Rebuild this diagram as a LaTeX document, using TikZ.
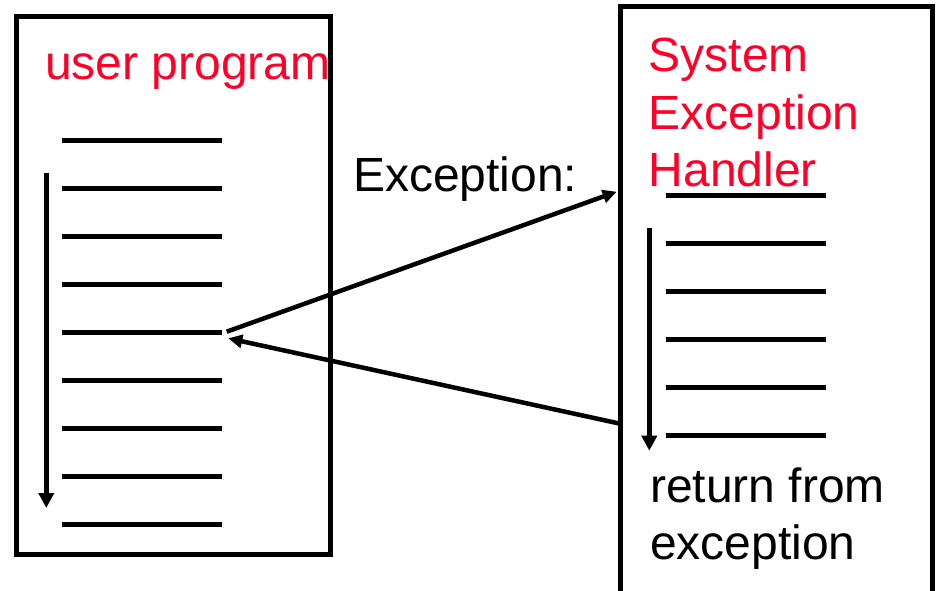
\documentclass[tikz,border=0pt]{standalone}
\usepackage{fontspec}
\setmainfont{Liberation Sans}
\usetikzlibrary{arrows.meta}
\definecolor{titlered}{RGB}{255,0,40}
\begin{document}
\begin{tikzpicture}[x=1pt,y=-1pt,
  frame/.style={draw, line width=5pt, rectangle, inner sep=0pt, outer sep=0pt},
  codeline/.style={line width=5pt},
  flow/.style={line width=5pt, -{Triangle[length=15pt,width=15pt]}},
  jump/.style={line width=4.5pt, -{Triangle[length=14pt,width=13pt]}},
  lbl/.style={anchor=base west, inner sep=0pt, font=\fontsize{48}{57}\selectfont},
]
% canvas
\clip (0,0) rectangle (936,590);
\fill[white] (0,0) rectangle (936,590);

% the two program boxes
\node[frame, minimum width=314pt, minimum height=538pt] (user) at (173.5,285) {};
\node[frame, minimum width=312.5pt, minimum height=620pt, anchor=north west] (handler) at (620,6.5) {};

% titles
\node[lbl, text=titlered] (utitle) at (45,79) {user program};
\node[lbl, text=titlered] (h1) at (648.5,71.5) {System};
\node[lbl, text=titlered] (h2) at (648.5,129) {Exception};
\node[lbl, text=titlered] (h3) at (648.5,186.5) {Handler};
\node[lbl] (exc) at (353,191.5) {Exception:};
\node[lbl] (r1) at (650,502.5) {return from};
\node[lbl] (r2) at (650,559.5) {exception};

% instruction lines
\foreach \k in {0,...,8}
  \draw[codeline] (62.3,{140.5+48*\k}) -- (222.3,{140.5+48*\k});
\foreach \k in {0,...,5}
  \draw[codeline] (665.7,{195+48*\k}) -- (825.7,{195+48*\k});

% execution flow inside each box
\coordinate (ustart) at (46.3,172.7);
\coordinate (uend) at (46.3,508);
\draw[flow] (ustart) -- (uend);
\coordinate (hstart) at (649.3,227.7);
\coordinate (hend) at (649.3,450.7);
\draw[flow] (hstart) -- (hend);

% transfer to the handler and back
\coordinate (callsite) at (226.7,331.7);
\coordinate (entry) at (616.7,191.7);
\coordinate (exit) at (618.3,423.3);
\coordinate (resume) at (228.3,338.3);
\draw[jump] (callsite) -- (entry);
\draw[jump] (exit) -- (resume);
\end{tikzpicture}
\end{document}
